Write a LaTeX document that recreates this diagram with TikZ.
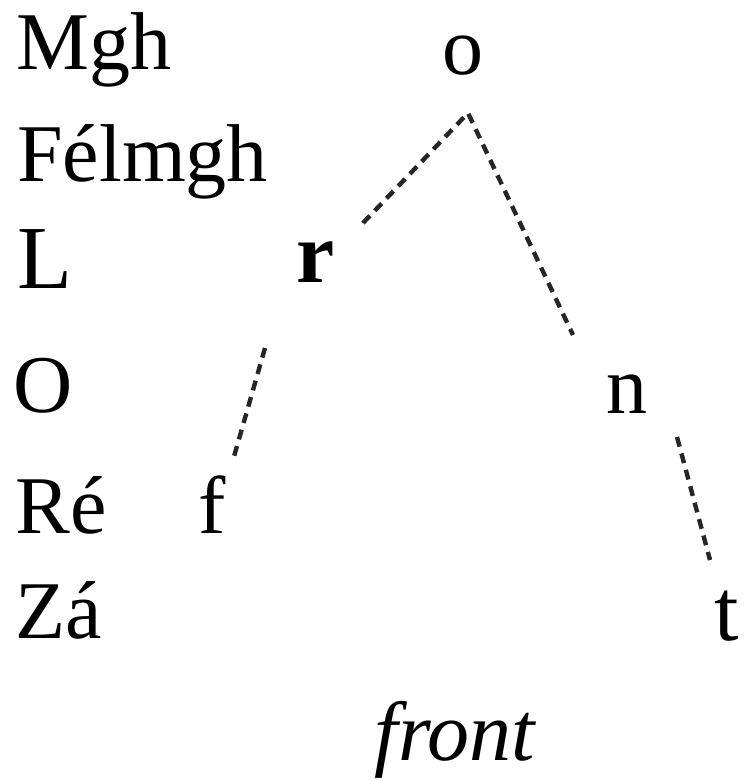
\documentclass[tikz,border=0pt]{standalone}
\usepackage{fontspec}
\setmainfont{Liberation Serif}
\usepackage{tikz}
\tikzset{
  level/.style={anchor=base west,inner sep=0pt,font=\fontsize{41}{49}\selectfont},
  seg/.style={anchor=base,inner sep=0pt,font=\fontsize{41}{49}\selectfont},
  link/.style={draw=black!85,line width=2.2pt,dash pattern=on 5pt off 3.5pt,line join=round},
}
\begin{document}
\begin{tikzpicture}[x=0.5pt,y=-0.5pt]
  \useasboundingbox (0,0) rectangle (743,780);
  \node[level] (mgh) at (16,70) {Mgh};
  \node[level] (felmgh) at (17,182) {Félmgh};
  \node[level,font=\fontsize{45}{54}\selectfont] (lvl) at (17,288) {L};
  \node[level] (olvl) at (13,412) {O};
  \node[level] (re) at (15,533) {Ré};
  \node[level] (za) at (15,638) {Zá};
  \node[seg] (o) at (463,75) {o};
  \node[seg,font=\fontsize{43}{52}\selectfont\bfseries] (r) at (316,283) {r};
  \node[seg] (f) at (212,533) {f};
  \node[seg] (n) at (627,413) {n};
  \node[seg,font=\fontsize{44}{52}\selectfont] (t) at (727,640) {t};
  \node[seg,font=\fontsize{42}{50}\selectfont\itshape] (front) at (455,760) {front};
  \coordinate (apex) at ([shift={(5,38)}]o.base);
  \draw[link] ([shift={(47,-60)}]r.base) -- (apex) -- ([shift={(-54,-78)}]n.base);
  \draw[link] ([shift={(-51,65)}]r.base) -- ([shift={(21,-73)}]f.base);
  \draw[link] ([shift={(50,24)}]n.base) -- ([shift={(-17,-80)}]t.base);
\end{tikzpicture}
\end{document}
